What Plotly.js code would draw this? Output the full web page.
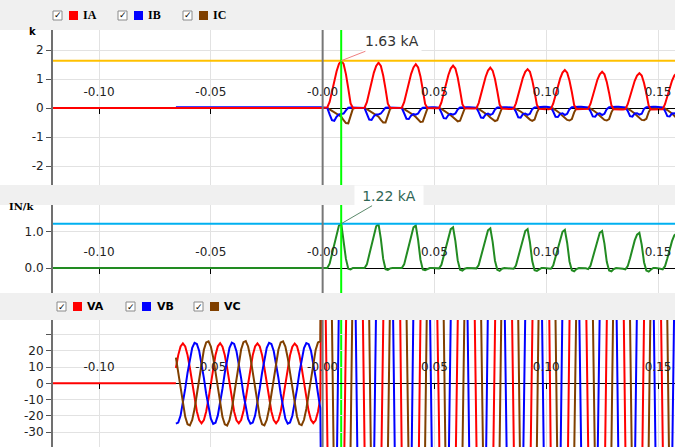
<!DOCTYPE html>
<html><head><meta charset="utf-8">
<script src="https://cdn.plot.ly/plotly-3.0.1.min.js"></script>
<style>html,body{margin:0;padding:0;background:#f0f0f0}#chart{width:675px;height:447px}</style>
</head><body><div id="chart"></div>
<script>
// ---------------- data ----------------
const DT = 1/960;                 // sample interval (16 samples / 60 Hz cycle)
const T_VOLT_START = -0.065625;   // first voltage sample
const T_CUR_START = 0;            // first post-fault current sample
const T_FAULT = 0;                // grey cursor
const T_CURSOR = 0.0083;          // green cursor
const IA_PEAK = 1.63;
const IN_PEAK = 1.22;
const X_TICKS = [-0.10,-0.05,0,0.05,0.10,0.15];
const X_TICK_TEXT = ['-0.10','-0.05','-0.00','0.05','0.10','0.15'];
const Y1_TICKS = [-2,-1,0,1,2];
const Y1_TEXT = ['-2','-1','0','1','2'];
const Y2_TICKS = [0,1];
const Y2_TEXT = ['0.0','1.0'];
const Y3_TICKS = [-30,-20,-10,0,10,20,30];
const Y3_TEXT = ['-30','-20','-10','0','10','20',''];
const LABEL_IA = '1.63 kA';
const LABEL_IN = '1.22 kA';

// lead-in (flat) segments before the sampled record
const LEAD_T_IA = [-0.13, 0];       const LEAD_IA = [0, 0];
const LEAD_T_IB = [-0.065625, 0];   const LEAD_IB = [0.03, 0.03];
const LEAD_T_IC = [-0.065625, 0];   const LEAD_IC = [0, 0];
const LEAD_T_IN = [-0.13, 0];       const LEAD_IN = [0, 0];
const LEAD_T_VA = [-0.13, -0.065625]; const LEAD_VA = [0, 0];

const IA = [
 0,0,0.02,0.21,0.57,0.93,1.27,1.52,1.63,1.52,1.17,0.68,0.16,0,0,0,
 0,0,0.01,0.2,0.55,0.89,1.22,1.45,1.56,1.45,1.12,0.66,0.15,0,0,0,
 0,0,0.01,0.2,0.53,0.86,1.18,1.4,1.51,1.4,1.09,0.63,0.14,0,-0.01,-0.01,
 -0.01,-0.01,0,0.19,0.51,0.83,1.14,1.36,1.46,1.36,1.05,0.61,0.13,-0.01,-0.02,-0.02,
 -0.02,-0.02,-0.01,0.17,0.49,0.79,1.08,1.29,1.39,1.29,1.0,0.58,0.12,-0.02,-0.03,-0.03,
 -0.03,-0.03,-0.02,0.16,0.47,0.76,1.05,1.25,1.34,1.25,0.96,0.56,0.11,-0.03,-0.04,-0.04,
 -0.04,-0.04,-0.03,0.15,0.46,0.75,1.02,1.22,1.31,1.22,0.94,0.55,0.1,-0.04,-0.04,-0.04,
 -0.04,-0.04,-0.03,0.14,0.44,0.71,0.98,1.16,1.25,1.16,0.9,0.52,0.09,-0.04,-0.05,-0.05,
 -0.05,-0.05,-0.04,0.13,0.42,0.68,0.94,1.12,1.2,1.12,0.86,0.5,0.08,-0.05,-0.05,-0.05,
 -0.05,-0.05,-0.04,0.13,0.42,0.68,0.94,1.12,1.2];
const IB = [
 0.02,0.02,0,-0.22,-0.42,-0.44,-0.3,-0.22,-0.2,-0.19,-0.08,0.01,0.02,0.02,0.02,0.02,
 0.02,0.02,0,-0.2,-0.4,-0.41,-0.28,-0.22,-0.22,-0.19,-0.07,0.01,0.02,0.02,0.02,0.02,
 0.02,0.02,0,-0.18,-0.37,-0.38,-0.26,-0.21,-0.23,-0.19,-0.06,0.01,0.02,0.03,0.03,0.03,
 0.03,0.03,0.01,-0.16,-0.35,-0.36,-0.24,-0.2,-0.23,-0.19,-0.05,0.02,0.03,0.03,0.03,0.03,
 0.03,0.03,0.01,-0.14,-0.33,-0.34,-0.22,-0.19,-0.24,-0.2,-0.05,0.02,0.03,0.03,0.03,0.03,
 0.03,0.03,0.01,-0.13,-0.32,-0.33,-0.21,-0.19,-0.24,-0.2,-0.04,0.02,0.03,0.04,0.04,0.04,
 0.04,0.04,0.02,-0.12,-0.3,-0.31,-0.2,-0.18,-0.24,-0.2,-0.04,0.03,0.04,0.04,0.04,0.04,
 0.04,0.04,0.02,-0.11,-0.29,-0.3,-0.2,-0.18,-0.24,-0.2,-0.04,0.03,0.04,0.04,0.04,0.04,
 0.04,0.04,0.02,-0.1,-0.28,-0.3,-0.19,-0.18,-0.23,-0.2,-0.03,0.03,0.04,0.04,0.04,0.04,
 0.04,0.04,0.02,-0.1,-0.28,-0.29,-0.19,-0.18,-0.23];
const IC = [
 0,0,0,-0.05,-0.1,-0.12,-0.18,-0.24,-0.3,-0.42,-0.52,-0.53,-0.27,-0.02,0,0,
 0,0,0,-0.04,-0.09,-0.12,-0.18,-0.24,-0.3,-0.41,-0.5,-0.5,-0.25,-0.02,0,0,
 0,0,0,-0.04,-0.09,-0.12,-0.18,-0.24,-0.31,-0.4,-0.48,-0.47,-0.22,-0.01,0,0,
 0,0,0,-0.03,-0.08,-0.12,-0.18,-0.25,-0.32,-0.4,-0.46,-0.44,-0.2,-0.01,0,0,
 0,0,0,-0.03,-0.08,-0.12,-0.18,-0.25,-0.33,-0.4,-0.45,-0.42,-0.18,0,0,0,
 0,0,0,-0.03,-0.07,-0.12,-0.18,-0.26,-0.34,-0.4,-0.44,-0.4,-0.16,0,0,0,
 0,0,0,-0.02,-0.07,-0.12,-0.19,-0.27,-0.35,-0.41,-0.43,-0.38,-0.15,0,0,0,
 0,0,0,-0.02,-0.07,-0.12,-0.19,-0.27,-0.35,-0.41,-0.43,-0.38,-0.15,0,0,0,
 0,0,0,-0.02,-0.07,-0.12,-0.19,-0.27,-0.35,-0.41,-0.42,-0.37,-0.14,0,0,0,
 0,0,0,-0.02,-0.07,-0.12,-0.19,-0.27,-0.35];
const IN = [
 0,0,0,0.12,0.38,0.65,0.95,1.17,1.22,0.8,0.25,-0.02,-0.04,0,0,0,
 0,0,0,0.1,0.36,0.64,0.94,1.15,1.21,0.8,0.25,-0.03,-0.05,-0.01,0,0,
 0,0,0,0.1,0.35,0.62,0.91,1.12,1.17,0.77,0.23,-0.04,-0.06,-0.02,0,0,
 0,0,-0.01,0.09,0.33,0.6,0.87,1.07,1.12,0.74,0.21,-0.05,-0.07,-0.02,0,0,
 0,0,-0.01,0.08,0.32,0.58,0.85,1.04,1.09,0.72,0.2,-0.05,-0.08,-0.02,0,0,
 0,-0.01,-0.02,0.07,0.31,0.57,0.83,1.02,1.07,0.71,0.19,-0.06,-0.08,-0.03,0,0,
 0,-0.01,-0.02,0.07,0.3,0.56,0.82,1.0,1.05,0.69,0.18,-0.06,-0.09,-0.03,0,0,
 0,-0.01,-0.03,0.06,0.29,0.54,0.8,0.97,1.02,0.67,0.17,-0.07,-0.09,-0.03,0,0,
 0,-0.02,-0.04,0.05,0.27,0.52,0.76,0.92,0.97,0.64,0.16,-0.07,-0.1,-0.04,0,0,
 0,-0.02,-0.04,0.05,0.26,0.5,0.74,0.9,0.95];

const VA_PRE = [
 9.4,17.3,22.6,24.5,22.6,17.3,9.4,0,-9.4,-17.3,-22.6,-24.5,-22.6,-17.3,-9.4,0,
 9.5,17.4,22.7,24.6,22.5,17.2,9.3,-0.1,-9.5,-17.4,-22.7,-24.6,-22.5,-17.2,-9.3,0.1,
 9.4,17.3,22.6,24.5,22.6,17.3,9.4,0,-9.4,-17.3,-22.6,-24.5,-22.6,-17.3,-9.4,0,
 9.3,17.2,22.5,24.4,22.7,17.4,9.5,0.1,-9.3,-17.2,-22.5,-24.4,-22.7,-17.4,-9.5];
const VB_PRE = [
 -24.8,-24.1,-19.8,-12.5,-3.3,6.5,15.2,21.7,24.8,24.1,19.8,12.5,3.3,-6.5,-15.2,-21.7,
 -24.9,-24.2,-19.7,-12.4,-3.2,6.6,15.3,21.8,24.9,24.2,19.7,12.4,3.2,-6.6,-15.3,-21.8,
 -24.8,-24.1,-19.8,-12.5,-3.3,6.5,15.2,21.7,24.8,24.1,19.8,12.5,3.3,-6.5,-15.2,-21.7,
 -24.7,-24.0,-19.9,-12.6,-3.4,6.4,15.1,21.6,24.7,24.0,19.9,12.6,3.4,-6.4,-15.2];
const VC_PRE = [
 15.8,6.7,-3.4,-13,-20.6,-25.1,-25.8,-22.5,-15.8,-6.7,3.4,13,20.6,25.1,25.8,22.5,
 15.9,6.8,-3.3,-12.9,-20.7,-25.2,-25.9,-22.6,-15.9,-6.8,3.3,12.9,20.7,25.2,25.9,22.6,
 15.8,6.7,-3.4,-13,-20.6,-25.1,-25.8,-22.5,-15.8,-6.7,3.4,13,20.6,25.1,25.8,22.5,
 15.7,6.6,-3.5,-13.1,-20.5,-25.0,-25.7,-22.4,-15.7,-6.6,3.5,13.1,20.5,25.0,25.8];
const VA_POST = [
 179,74,-43,-154,-241,-291,-297,-258,-179,-74,43,154,241,291,297,258,
 182,66,-35,-150,-238,-288,-299,-262,-183,-68,36,149,238,289,298,261,
 176,80,-49,-158,-244,-293,-296,-255,-176,-80,49,158,244,293,296,255,
 184,61,-28,-148,-236,-287,-298,-263,-186,-62,29,147,235,287,299,262,
 178,77,-46,-156,-242,-292,-297,-257,-178,-77,46,156,242,292,297,257,
 181,70,-39,-152,-239,-290,-298,-260,-181,-70,39,152,239,290,298,260,
 177,83,-52,-159,-245,-294,-296,-254,-177,-83,52,159,245,294,296,254,
 183,63,-31,-149,-237,-288,-299,-262,-185,-64,31,148,237,288,299,262,
 179,75,-44,-155,-241,-291,-297,-258,-179,-75,44,155,241,291,297,258,
 180,72,-41,-153,-240,-290,-298,-259,-180];
const VB_POST = [
 -164,-248,-294,-295,-251,-170,-62,55,164,248,294,295,251,170,62,-55,
 -168,-251,-295,-294,-248,-165,-50,44,160,245,293,296,253,174,70,-63,
 -160,-245,-293,-296,-253,-174,-70,63,168,251,295,294,249,166,52,-46,
 -166,-249,-294,-295,-250,-168,-57,50,162,247,294,295,252,172,66,-59,
 -162,-247,-294,-295,-252,-172,-66,59,166,250,294,295,250,168,57,-50,
 -165,-249,-294,-295,-251,-169,-60,53,163,248,294,295,251,171,64,-57,
 -163,-247,-294,-295,-251,-171,-64,57,165,249,294,295,250,169,60,-53,
 -167,-250,-295,-294,-249,-166,-54,47,161,246,293,296,252,173,68,-61,
 -164,-248,-294,-295,-251,-170,-62,55,164,248,294,295,251,170,62,-55,
 -165,-249,-294,-295,-250,-168,-58,51,163];
const VC_POST = [
 298,289,237,149,38,-79,-184,-261,-298,-289,-237,-149,-38,79,184,261,
 297,290,239,152,30,-85,-188,-263,-298,-288,-235,-146,-45,72,180,259,
 298,288,235,146,45,-72,-180,-259,-297,-290,-239,-152,-30,85,188,263,
 298,289,237,150,34,-82,-186,-262,-298,-289,-236,-148,-41,75,182,260,
 298,289,236,148,41,-75,-182,-260,-298,-289,-238,-150,-34,82,186,262,
 297,289,237,149,37,-80,-185,-261,-298,-289,-237,-149,-38,78,184,261,
 298,290,238,151,32,-84,-187,-262,-297,-288,-236,-147,-43,74,181,260,
 298,288,236,147,43,-74,-181,-260,-298,-290,-238,-151,-32,84,187,262,
 298,289,237,149,38,-79,-184,-261,-298,-289,-237,-149,-38,79,184,261,
 297,289,237,149,36,-81,-185,-261,-298];

// ---------------- styling / layout ----------------
const RED='#ff0000', BLUE='#0000ff', BROWN='#804000', GREEN='#228b22';
const W=675, H=447;
const px = v => v/W, py = v => 1 - v/H;
const XDOM = [53/W, 1];
const XRANGE = [-0.1206, 0.1576];
const PANELS = [
  {top:30,  bot:185, range:[-2.655, 2.690]},
  {top:205, bot:293, range:[-0.689, 1.736]},
  {top:320, bot:447, range:[-39.08, 38.83]}
];
PANELS.forEach(p => { p.dom = [py(p.bot), py(p.top)];
  p.zero = p.dom[0] + (0 - p.range[0])/(p.range[1]-p.range[0])*(p.dom[1]-p.dom[0]); });

const TICKFONT = {family:'DejaVu Sans', size:12, color:'#222'};
const axX = p => ({domain:XDOM, range:XRANGE, anchor:'free', position:p.zero, side:'top',
  tickmode:'array', tickvals:X_TICKS, ticktext:X_TICK_TEXT, ticks:'inside', ticklen:5,
  tickcolor:'#000', tickwidth:1, showline:false, showgrid:true, gridcolor:'#e2e2e2',
  zeroline:false, tickfont:TICKFONT, ticklabelstandoff:10, fixedrange:true});
const axY = (p, anchor, vals, text) => ({domain:p.dom, range:p.range, anchor:anchor,
  tickmode:'array', tickvals:vals, ticktext:text, ticks:'outside', ticklen:5, tickcolor:'#555',
  showline:true, linecolor:'#707070', linewidth:2, showgrid:true, gridcolor:'#e2e2e2',
  zeroline:true, zerolinecolor:'#000', zerolinewidth:1, tickfont:TICKFONT, fixedrange:true});

const ln = c => ({color:c, width:2});
const sampled = (y, x0, xa, ya, c) => ({type:'scatter', mode:'lines', y:y, x0:x0, dx:DT,
  xaxis:xa, yaxis:ya, line:ln(c), hoverinfo:'skip', showlegend:false});
const lead = (x, y, xa, ya, c) => ({type:'scatter', mode:'lines', x:x, y:y,
  xaxis:xa, yaxis:ya, line:ln(c), hoverinfo:'skip', showlegend:false});

const traces = [
  lead(LEAD_T_IC, LEAD_IC, 'x', 'y', BROWN),
  lead(LEAD_T_IB, LEAD_IB, 'x', 'y', BLUE),
  lead(LEAD_T_IA, LEAD_IA, 'x', 'y', RED),
  sampled(IC, T_CUR_START, 'x', 'y', BROWN),
  sampled(IB, T_CUR_START, 'x', 'y', BLUE),
  sampled(IA, T_CUR_START, 'x', 'y', RED),
  lead(LEAD_T_IN, LEAD_IN, 'x2', 'y2', GREEN),
  sampled(IN, T_CUR_START, 'x2', 'y2', GREEN),
  lead(LEAD_T_VA, LEAD_VA, 'x3', 'y3', RED),
  sampled(VA_PRE.concat(VA_POST), T_VOLT_START, 'x3', 'y3', RED),
  sampled(VB_PRE.concat(VB_POST), T_VOLT_START, 'x3', 'y3', BLUE),
  sampled(VC_PRE.concat(VC_POST), T_VOLT_START, 'x3', 'y3', BROWN)
];

const shapes = [], annotations = [];
PANELS.forEach(p => shapes.push({type:'rect', xref:'paper', yref:'paper', x0:0, x1:1,
  y0:p.dom[0], y1:p.dom[1], fillcolor:'#ffffff', line:{width:0}, layer:'below'}));
shapes.push({type:'line', xref:'x domain', yref:'y', x0:0, x1:1, y0:IA_PEAK, y1:IA_PEAK, line:{color:'#ffc000', width:2}});
shapes.push({type:'line', xref:'x2 domain', yref:'y2', x0:0, x1:1, y0:IN_PEAK, y1:IN_PEAK, line:{color:'#00b0f0', width:2}});
[['x','y'],['x2','y2'],['x3','y3']].forEach(([xa,ya], i) => {
  shapes.push({type:'line', xref:xa, yref:ya+' domain', x0:T_FAULT, x1:T_FAULT, y0:0, y1:1, line:{color:'#777777', width:2}});
  shapes.push({type:'line', xref:xa, yref:ya+' domain', x0:T_CURSOR, x1:T_CURSOR, y0:0, y1:1,
    line:{color:'#00ff00', width:2}, layer: i === 2 ? 'below' : 'above'});
});

function legendItem(xBox, xSw, xLab, yTop, color, label, font) {
  shapes.push({type:'rect', xref:'paper', yref:'paper', x0:px(xBox), x1:px(xBox+9), y0:py(yTop+9), y1:py(yTop),
    fillcolor:'#ffffff', line:{color:'#8a8a8a', width:1}});
  annotations.push({xref:'paper', yref:'paper', x:px(xBox+4.5), y:py(yTop+4.5), text:'✓', showarrow:false,
    xanchor:'center', yanchor:'middle', font:{family:'DejaVu Sans', size:9, color:'#000'}});
  shapes.push({type:'rect', xref:'paper', yref:'paper', x0:px(xSw), x1:px(xSw+9), y0:py(yTop+9), y1:py(yTop),
    fillcolor:color, line:{width:0}});
  annotations.push({xref:'paper', yref:'paper', x:px(xLab-2), y:py(yTop+4.5), text:'<b>'+label+'</b>', showarrow:false,
    xanchor:'left', yanchor:'middle', font:font});
}
const SERIF_B = {family:'Liberation Serif', size:12, color:'#000'};
const SANS_B = {family:'DejaVu Sans', size:11, color:'#000'};
legendItem(53, 69, 83, 11, RED, 'IA', SERIF_B);
legendItem(118, 134, 148, 11, BLUE, 'IB', SERIF_B);
legendItem(183, 199, 213, 11, BROWN, 'IC', SERIF_B);
legendItem(57, 73, 87, 302, RED, 'VA', SANS_B);
legendItem(126, 142, 157, 302, BLUE, 'VB', SANS_B);
legendItem(194, 210, 224, 302, BROWN, 'VC', SANS_B);

annotations.push({xref:'paper', yref:'paper', x:px(32), y:py(31), text:'<b>k</b>', showarrow:false,
  xanchor:'center', yanchor:'middle', font:{family:'DejaVu Sans', size:10, color:'#000'}});
annotations.push({xref:'paper', yref:'paper', x:px(21.5), y:py(206.5), text:'<b>IN/k</b>', showarrow:false,
  xanchor:'center', yanchor:'middle', font:{family:'DejaVu Serif', size:10, color:'#000'}});

annotations.push({xref:'x', yref:'y', x:T_CURSOR, y:IA_PEAK, text:LABEL_IA, showarrow:true, arrowhead:0,
  arrowwidth:1, arrowcolor:'#f08080', ax:51, ay:-20, bgcolor:'#ffffff', borderpad:2,
  font:{family:'DejaVu Sans', size:14, color:'#333'}});
annotations.push({xref:'x2', yref:'y2', x:T_CURSOR, y:IN_PEAK, text:LABEL_IN, showarrow:true, arrowhead:0,
  arrowwidth:1, arrowcolor:'#5b8a6b', ax:48, ay:-28, bgcolor:'#ffffff', borderpad:2, width:64, height:15,
  font:{family:'DejaVu Sans', size:14, color:'#2f6655'}});

const layout = {
  width:W, height:H, margin:{l:0, r:0, t:0, b:0}, paper_bgcolor:'#f0f0f0', plot_bgcolor:'#ffffff',
  showlegend:false,
  xaxis:axX(PANELS[0]), xaxis2:axX(PANELS[1]), xaxis3:axX(PANELS[2]),
  yaxis:axY(PANELS[0], 'x', Y1_TICKS, Y1_TEXT),
  yaxis2:axY(PANELS[1], 'x2', Y2_TICKS, Y2_TEXT),
  yaxis3:axY(PANELS[2], 'x3', Y3_TICKS, Y3_TEXT),
  shapes:shapes, annotations:annotations
};
Plotly.newPlot('chart', traces, layout, {displayModeBar:false, staticPlot:true});
</script></body></html>
